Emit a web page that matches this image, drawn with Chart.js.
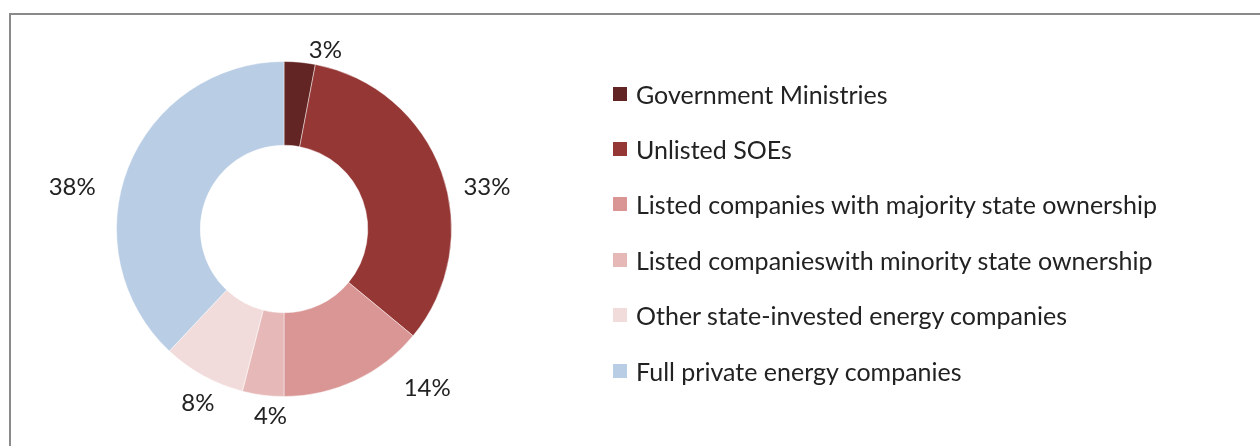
<!DOCTYPE html>
<html>
<head>
<meta charset="utf-8">
<script src="https://cdn.jsdelivr.net/npm/chart.js@4.4.1/dist/chart.umd.min.js"></script>
<style>
    body {
        margin: 0;
        width: 1260px;
        height: 446px;
        overflow: hidden;
        position: relative;
        background: #fff;
        font-family: Lato, "Open Sans", sans-serif;
    }
    .frame {
        position: absolute;
        left: 9px;
        top: 13px;
        width: 1300px;
        height: 500px;
        border: 2px solid #8a8a8a;
        box-sizing: border-box;
    }
    #ownershipChart {
        position: absolute;
        left: 0;
        top: 0;
    }
    #legend {
        position: absolute;
        left: 613px;
        top: 66px;
        margin: 0;
        padding: 0;
        list-style: none;
    }
    #legend li {
        display: flex;
        align-items: center;
        height: 55.4px;
        font-size: 25px;
        color: #222;
        white-space: nowrap;
    }
    #legend .box {
        width: 14px;
        height: 14px;
        margin-right: 9px;
        flex: none;
    }
</style>
</head>
<body>
<div class="frame"></div>
<canvas id="ownershipChart" width="1260" height="446"></canvas>
<ul id="legend"></ul>

<script>
// Ownership categories and their shares (%)
const categories = [
    'Government Ministries',
    'Unlisted SOEs',
    'Listed companies with majority state ownership',
    'Listed companieswith minority state ownership',
    'Other state-invested energy companies',
    'Full private energy companies'
];
const shares = [3, 33, 14, 4, 8, 38];
const colors = ['#632523', '#953735', '#d99694', '#e6b9b8', '#f2dcdb', '#b9cde5'];

// Small nudges so the percent labels sit clear of each other
const labelShift = [[23, 16], [19, 24], [60, -18], [11, -7], [8, 3], [-30, 30]];

// Percent labels outside the ring
const outsideLabels = {
    id: 'outsideLabels',
    afterDatasetsDraw(chart) {
        const ctx = chart.ctx;
        const meta = chart.getDatasetMeta(0);
        ctx.save();
        ctx.font = '24px Lato, "Open Sans", sans-serif';
        ctx.fillStyle = '#222';
        ctx.textAlign = 'center';
        ctx.textBaseline = 'middle';
        meta.data.forEach((arc, i) => {
            const p = arc.getProps(['x', 'y', 'startAngle', 'endAngle', 'outerRadius'], true);
            const mid = (p.startAngle + p.endAngle) / 2;
            const r = p.outerRadius + 28;
            const x = p.x + Math.cos(mid) * r + labelShift[i][0];
            const y = p.y + Math.sin(mid) * r + labelShift[i][1];
            ctx.fillText(chart.data.datasets[0].data[i] + '%', x, y);
        });
        ctx.restore();
    }
};

const chart = new Chart(document.getElementById('ownershipChart'), {
    type: 'doughnut',
    data: {
        labels: categories,
        datasets: [{
            data: shares,
            backgroundColor: colors,
            borderColor: 'rgba(255,255,255,0.45)',
            borderWidth: 1
        }]
    },
    options: {
        responsive: false,
        animation: false,
        cutout: '50%',
        layout: {
            padding: { left: 116, top: 61, right: 808, bottom: 49 }
        },
        plugins: {
            legend: { display: false },
            tooltip: { enabled: false }
        }
    },
    plugins: [outsideLabels]
});

// Legend on the right
const legend = document.getElementById('legend');
categories.forEach((name, i) => {
    const li = document.createElement('li');
    li.innerHTML = `<span class="box" style="background:${colors[i]}"></span>${name}`;
    legend.appendChild(li);
});
</script>
</body>
</html>
